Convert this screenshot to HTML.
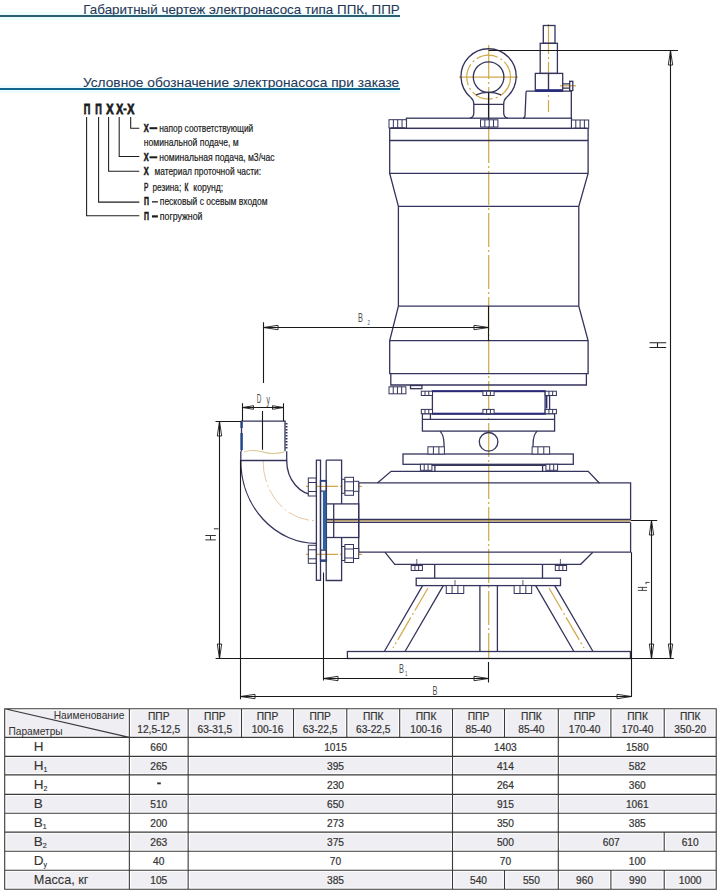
<!DOCTYPE html>
<html><head><meta charset="utf-8">
<style>
html,body{margin:0;padding:0;background:#fff;width:722px;height:896px;overflow:hidden}
svg{display:block}
text{font-family:"Liberation Sans",sans-serif}
</style></head><body>
<svg width="722" height="896" viewBox="0 0 722 896">
<rect x="0" y="12" width="400" height="8" fill="#ecfcff"/><text x="83.3" y="13.6" font-size="13.3" fill="#1f3858" stroke="#1f3858" stroke-width="0.08" textLength="316.5" lengthAdjust="spacingAndGlyphs">Габаритный чертеж электронасоса типа ППК, ППР</text><rect x="0" y="15" width="400" height="2" fill="#2a5f73"/><rect x="0" y="85" width="400" height="8" fill="#ecfcff"/><text x="82.9" y="86.8" font-size="13.5" fill="#1f3858" stroke="#1f3858" stroke-width="0.08" textLength="316.3" lengthAdjust="spacingAndGlyphs">Условное обозначение электронасоса при заказе</text><rect x="0" y="88" width="400" height="2" fill="#16658f"/><g fill="#1c1c1c"><text transform="translate(83.8 114.4) scale(0.609 1)" font-size="15" font-weight="bold" stroke="#1c1c1c" stroke-width="0.9">П</text><text transform="translate(95.3 114.4) scale(0.609 1)" font-size="15" font-weight="bold" stroke="#1c1c1c" stroke-width="0.9">П</text><text transform="translate(106.2 114.4) scale(0.730 1)" font-size="15" font-weight="bold" stroke="#1c1c1c" stroke-width="0.9">Х</text><text transform="translate(116.3 114.4) scale(0.690 1)" font-size="15" font-weight="bold" stroke="#1c1c1c" stroke-width="0.9">Х</text><rect x="123.4" y="108.3" width="3.2" height="2.2"/><text transform="translate(127.2 114.4) scale(0.710 1)" font-size="15" font-weight="bold" stroke="#1c1c1c" stroke-width="0.9">Х</text><path d="M86.6 117.1V215.7H139.3M98.6 117.1V202.1H139.3M108.6 117.1V171.2H139.3M119.2 117.1V156.5H139.3M130.7 117.1V128.2H139.3" stroke="#1c1c1c" stroke-width="1.05" fill="none"/><text transform="translate(143.7 131.6) scale(0.694 1)" font-size="10.8" font-weight="bold" stroke="#1c1c1c" stroke-width="0.6">Х</text><rect x="149.5" y="127.2" width="7.8" height="2"/><text x="159.2" y="131.6" font-size="10.6" textLength="94.1" lengthAdjust="spacingAndGlyphs" stroke="#1c1c1c" stroke-width="0.2">напор соответствующий</text><text x="143.7" y="146" font-size="10.6" textLength="95" lengthAdjust="spacingAndGlyphs" stroke="#1c1c1c" stroke-width="0.2">номинальной подаче, м</text><text transform="translate(143.7 160.7) scale(0.694 1)" font-size="10.8" font-weight="bold" stroke="#1c1c1c" stroke-width="0.6">Х</text><rect x="149.5" y="156.3" width="7.8" height="2"/><text x="159.2" y="160.7" font-size="10.6" textLength="115.4" lengthAdjust="spacingAndGlyphs" stroke="#1c1c1c" stroke-width="0.2">номинальная подача, м3/час</text><text transform="translate(143.7 174.8) scale(0.694 1)" font-size="10.8" font-weight="bold" stroke="#1c1c1c" stroke-width="0.6">Х</text><text x="154.4" y="174.8" font-size="10.6" textLength="106.6" lengthAdjust="spacingAndGlyphs" stroke="#1c1c1c" stroke-width="0.2">материал проточной части:</text><text transform="translate(144 190.5) scale(0.62 1)" font-size="10.6" stroke="#1c1c1c" stroke-width="0.5">Р</text><text x="152.5" y="190.5" font-size="10.6" textLength="28.7" lengthAdjust="spacingAndGlyphs" stroke="#1c1c1c" stroke-width="0.2">резина;</text><text transform="translate(184.6 190.5) scale(0.62 1)" font-size="10.6" stroke="#1c1c1c" stroke-width="0.5">К</text><text x="193.3" y="190.5" font-size="10.6" textLength="29.9" lengthAdjust="spacingAndGlyphs" stroke="#1c1c1c" stroke-width="0.2">корунд;</text><text transform="translate(143.9 205.4) scale(0.641 1)" font-size="10.8" font-weight="bold" stroke="#1c1c1c" stroke-width="0.6">П</text><rect x="152" y="201.2" width="5.9" height="1.3"/><text x="159.8" y="205.4" font-size="10.6" textLength="107.7" lengthAdjust="spacingAndGlyphs" stroke="#1c1c1c" stroke-width="0.2">песковый с осевым входом</text><text transform="translate(143.9 219.8) scale(0.641 1)" font-size="10.8" font-weight="bold" stroke="#1c1c1c" stroke-width="0.6">П</text><rect x="152" y="215.3" width="5.9" height="2.2"/><text x="159.8" y="219.8" font-size="10.6" textLength="42.7" lengthAdjust="spacingAndGlyphs" stroke="#1c1c1c" stroke-width="0.2">погружной</text></g>
<g id="drawing" fill="none" stroke-linejoin="miter">
<!-- orange centerlines -->
<g stroke="#d0a848" stroke-width="1.2">
<path d="M488.7 45V658" stroke-dasharray="34 3 2 3"/>
<path d="M548.5 24V112" stroke-dasharray="30 3 2 3"/>
<path d="M459 77.1H518"/>
<circle cx="488.6" cy="77.1" r="21.9" stroke-dasharray="22 3 2 3"/>
<path d="M263 460.5 A52 60 0 0 0 315.5 520.6" stroke-dasharray="22 3 2 3" stroke="#e6c8a4" stroke-width="1"/>
<path d="M326 520.8H630"/>
<path d="M306 486.3H338M340 486.3H362M306 554.4H338M340 554.4H362"/>
<path d="M244 452 Q253 449 263 452 T284 452" stroke="#d8c890"/>
<path d="M428 588L393 648" stroke-dasharray="26 3 2 3"/>
<path d="M549 588L584 648" stroke-dasharray="26 3 2 3"/>
<path d="M560 85.8H576"/>
</g>
<g stroke="#34345c" stroke-width="1.3">
<!-- eye bolt -->
<path d="M470.5 97.2 A27.6 27.6 0 1 1 506.7 97.2"/>
<path d="M470.5 97.2 Q473.8 100 473.8 104 V113 Q473.8 117 470 118.2"/>
<path d="M506.7 97.2 Q503.7 100 503.7 104 V113 Q503.7 117 507.6 118.2"/>
<circle cx="488.6" cy="77.1" r="15.3"/>
<path d="M476 94.8 Q488.6 90 501 94.8 M473.8 104.3H503.7"/>
<path d="M488.6 92.4V128.4" stroke="#1a1a3a"/>
<!-- cable gland -->
<rect x="543.3" y="25.5" width="11.7" height="17.8"/>
<rect x="540.2" y="43.3" width="17.2" height="30.1"/>
<rect x="535.3" y="73.4" width="27.4" height="17.8"/>
<path d="M548.5 73.4V91.2"/>
<path d="M562.7 83.8H569.7M562.7 88.1H569.7"/>
<rect x="569.7" y="81.3" width="3.1" height="9.3"/>
<path d="M526.1 91.2H571.3V118.2M526.1 91.2L525 116Q524.5 118 523 118.2"/>
<!-- top plate -->
<rect x="406.4" y="118.2" width="165.1" height="10.2"/>
<!-- body -->
<path d="M389.7 128.4H588.1V173.4L578.8 206.3V306.1L588.1 340.7V373.6H389.7V340.7L398.4 306.1V206.3L389.7 173.4Z"/>
<path d="M389.7 140.5H588.1M389.7 173.4H588.1M398.4 206.3H578.8M398.4 306.1H578.8M389.7 340.7H588.1"/>
<path d="M390.8 373.6V385H586.4V373.6"/>
<!-- flange area -->
<rect x="410.5" y="385.5" width="11.4" height="3.2"/>
<rect x="432.4" y="391.2" width="112.7" height="22.5"/>
<path d="M545.1 395.5H549.6V409.4"/>
<rect x="422.4" y="413.7" width="132.2" height="17.4"/>
<path d="M422.4 419.4H554.6M430.4 413.7V419.4"/>
<path d="M440 431.1 Q444.5 435.5 444 446.8M537.1 431.1 Q532.6 435.5 533.1 446.8"/>
<circle cx="488.6" cy="441.8" r="9.3"/>
<rect x="403" y="454" width="170.3" height="10.3"/>
<path d="M434.9 464.3V471.3M542.6 464.3V471.3M431.9 465.3H545.9"/>
<!-- volute -->
<path d="M358.7 482.9H630.6V519.8M358.7 482.9V552.2H630.6V522.6"/>
<path d="M377.4 482.9L391.1 471.3H588.2L599.5 483.2"/>
<path d="M384.9 552.2L394.8 564.3H580.7L592.8 552.2"/>
<path d="M326.2 519.5H630.6M326.2 522.3H630.6"/>
<!-- stand -->
<path d="M434.7 564.3V578.2M542.5 564.3V578.2"/>
<rect x="416.2" y="578.2" width="144.3" height="7.4"/>
<path d="M479.9 585.6V651.5M497.4 585.6V651.5"/>
<path d="M422.6 585.6L384.3 651.5M443.3 585.6L405 651.5M554.8 585.6L593 651.5M535.7 585.6L573.9 651.5"/>
<rect x="347.4" y="651.5" width="283" height="7"/>
<!-- pipe -->
<path d="M240.8 421.2H285.8M240.8 451.3V460.5H286.7V451.3M241.5 421.2V451.3M285 421.2V451.3"/>
<path d="M286.5 423V450" stroke-width="2" stroke-dasharray="1.5 1.5"/>
<path d="M240.8 460.5 A75.3 82.8 0 0 0 316.1 543.3"/>
<path d="M286.7 460.5 A29.4 34.7 0 0 0 316.1 495.2"/>
<!-- flange -->
<rect x="316.4" y="460.2" width="4.1" height="120.1"/>
<path d="M326.2 460.2H341.6V503.9M341.6 537.5V580.5H326.2V460.2"/>
<rect x="326.2" y="503.9" width="32.5" height="33.6"/>
<path d="M333.7 503.9V537.5"/>
<rect x="320.5" y="480.7" width="5.9" height="80.5"/><path d="M320.5 491.2H326.4M320.5 550.1H326.4"/>
</g>
<!-- blue fills -->
<g fill="#23458a" stroke="none">
<rect x="322.9" y="491.2" width="3.5" height="58.9" fill="#2d62a0"/><rect x="320.5" y="479.9" width="5.9" height="1.8"/><rect x="320.5" y="559.4" width="5.9" height="1.8"/>
<rect x="536" y="89.4" width="26" height="2.4"/>
<rect x="240.4" y="422" width="2.4" height="6"/><rect x="240.4" y="433" width="2.4" height="17"/>
<g fill="#2a2a7a"><rect x="431.8" y="390.2" width="113.8" height="2"/><rect x="431.8" y="412.7" width="113.8" height="2"/>
<rect x="545.8" y="396" width="1.6" height="12.5"/><rect x="536" y="89.4" width="26" height="2.4"/></g>
</g>
<!-- bolts -->
<g stroke="#34345c" stroke-width="1" fill="#fff"><rect x="389.0" y="119.7" width="17.40" height="8.20"/><path d="M393.35 119.7V127.9M397.70 119.7V127.9M402.05 119.7V127.9"/><rect x="480.5" y="119.8" width="17.40" height="7.20"/><path d="M484.85 119.8V127.0M489.20 119.8V127.0M493.55 119.8V127.0"/><rect x="571.5" y="120.0" width="17.20" height="8.20"/><path d="M575.80 120.0V128.2M580.10 120.0V128.2M584.40 120.0V128.2"/><rect x="389.0" y="386.8" width="16.90" height="7.00"/><path d="M393.23 386.8V393.8M397.45 386.8V393.8M401.67 386.8V393.8"/><rect x="421.29999999999995" y="391.2" width="11.20" height="4.30"/><path d="M425.03 391.2V395.5M428.77 391.2V395.5"/><rect x="421.29999999999995" y="409.4" width="11.20" height="4.30"/><path d="M425.03 409.4V413.7M428.77 409.4V413.7"/><rect x="482.9" y="391.2" width="11.20" height="4.30"/><path d="M486.63 391.2V395.5M490.37 391.2V395.5"/><rect x="482.9" y="409.4" width="11.20" height="4.30"/><path d="M486.63 409.4V413.7M490.37 409.4V413.7"/><rect x="545.1999999999999" y="391.2" width="11.20" height="4.30"/><path d="M548.93 391.2V395.5M552.67 391.2V395.5"/><rect x="545.1999999999999" y="409.4" width="11.20" height="4.30"/><path d="M548.93 409.4V413.7M552.67 409.4V413.7"/><rect x="427.9" y="446.8" width="16.50" height="7.20"/><path d="M433.40 446.8V454.0M438.90 446.8V454.0"/><rect x="532.1" y="446.8" width="17.50" height="7.20"/><path d="M537.93 446.8V454.0M543.77 446.8V454.0"/><rect x="420.4" y="464.3" width="11.50" height="6.00"/><path d="M424.23 464.3V470.3M428.07 464.3V470.3"/><rect x="545.9" y="464.3" width="11.70" height="6.00"/><path d="M549.80 464.3V470.3M553.70 464.3V470.3"/><rect x="411.2" y="565.5" width="11.20" height="5.00"/><path d="M414.93 565.5V570.5M418.67 565.5V570.5"/><rect x="555.3" y="565.5" width="11.30" height="5.00"/><path d="M559.07 565.5V570.5M562.83 565.5V570.5"/><rect x="446.25" y="585.6" width="17.50" height="7.90"/><path d="M452.08 585.6V593.5M457.92 585.6V593.5"/><rect x="514.15" y="585.6" width="17.50" height="7.90"/><path d="M519.98 585.6V593.5M525.82 585.6V593.5"/><rect x="308.3" y="478" width="7.80" height="18.00"/><path d="M308.3 482.50H316.1M308.3 491.50H316.1"/><rect x="308.3" y="545.3" width="7.80" height="18.00"/><path d="M308.3 549.80H316.1M308.3 558.80H316.1"/><rect x="341.9" y="479.3" width="3" height="14.0"/><rect x="344.9" y="477.3" width="8.60" height="18.00"/><path d="M344.9 481.80H353.5M344.9 490.80H353.5"/><rect x="353.5" y="481.3" width="5.2" height="10.0"/><rect x="341.9" y="546.5" width="3" height="14.0"/><rect x="344.9" y="544.5" width="8.60" height="18.00"/><path d="M344.9 549.00H353.5M344.9 558.00H353.5"/><rect x="353.5" y="548.5" width="5.2" height="10.0"/><path d="M416.8 559V565.5M560.4 559V565.5M455 580V585.6M522.9 580V585.6" fill="none" stroke-width="0.8"/><path d="M391 127.9H405M573 128.2H587" fill="none" stroke-width="1"/></g><path d="M670.5 50.5L668.3 65.0L672.7 65.0ZM670.5 658.5L668.3 644.0L672.7 644.0ZM651.5 520.5L649.3 535.0L653.7 535.0ZM651.5 658.5L649.3 644.0L653.7 644.0ZM219.5 421.5L217.3 436.0L221.7 436.0ZM219.5 658.5L217.3 644.0L221.7 644.0ZM240.5 696.5L255.0 694.3L255.0 698.7ZM631.5 696.5L617.0 694.3L617.0 698.7ZM323.5 678.5L338.0 676.3L338.0 680.7ZM488.5 678.5L474.0 676.3L474.0 680.7ZM263.5 327.5L278.0 325.3L278.0 329.7ZM488.5 327.5L474.0 325.3L474.0 329.7ZM242.5 407.5L253.5 405.7L253.5 409.3ZM283.5 407.5L272.5 405.7L272.5 409.3Z" stroke="#1a1a1a" stroke-width="0.9" fill="none"/><text transform="translate(399.1 673.3) scale(0.55 1)" font-size="13.5" fill="#505050">B</text><text transform="translate(404.9 676) scale(0.55 1)" font-size="8" fill="#505050">1</text><text transform="translate(432.6 695.4) scale(0.55 1)" font-size="13.5" fill="#505050">B</text><text transform="translate(357.9 322.2) scale(0.55 1)" font-size="13.5" fill="#505050">B</text><text transform="translate(367.5 325) scale(0.55 1)" font-size="8" fill="#505050">2</text><text transform="translate(256.8 403.3) scale(0.5 1)" font-size="12.8" fill="#505050">D</text><text transform="translate(266.6 404) scale(0.55 1)" font-size="12.5" fill="#505050">y</text><path d="M649.5 342.7H666.2M649.5 347.5H666.2M657.5 342.7V347.5" stroke="#222" stroke-width="1.1" fill="none"/><path d="M637.8 587.4H647M637.8 590.4H647M642.4 587.4V590.4M645.6 582.4H649.6M646 582.4V584.2" stroke="#333" stroke-width="0.9" fill="none"/><path d="M205.3 535.5H215.8M205.3 539.9H215.8M210.5 535.5V539.9M213.9 528.8H218.6" stroke="#333" stroke-width="1" fill="none"/>
<!-- dimension lines -->
<g stroke="#1a1a1a" stroke-width="1.1">
<path d="M488.6 50.5H678M670.5 50.5V658.5"/>
<path d="M630.6 520.5H657.2M651.5 520.5V658.5"/>
<path d="M215.6 658.5H673.8"/>
<path d="M215.5 421.5H241M219.5 421.5V658.5"/>
<path d="M240.5 460V699.2M631.5 552.2V697M240.5 696.5H631.5"/>
<path d="M323.5 572.6V680.5M488.5 662V682.4M323.5 678.5H488.5"/>
<path d="M263.5 322.2V383.1M262.5 411V449.8M263.5 327.5H488.5M488.5 306.1V340.7"/>
<path d="M242.5 403.2V421M283.5 403.2V421M242.5 407.5H283.5"/>
</g>
</g>

<g id="table"><rect x="6.50" y="710.30" width="121.05" height="25.50" fill="#efeef2"/><rect x="131.15" y="710.30" width="55.20" height="25.50" fill="#efeef2"/><rect x="189.95" y="710.30" width="49.75" height="25.50" fill="#efeef2"/><rect x="243.30" y="710.30" width="48.40" height="25.50" fill="#efeef2"/><rect x="295.30" y="710.30" width="49.70" height="25.50" fill="#efeef2"/><rect x="348.60" y="710.30" width="49.30" height="25.50" fill="#efeef2"/><rect x="401.50" y="710.30" width="49.20" height="25.50" fill="#efeef2"/><rect x="454.30" y="710.30" width="48.40" height="25.50" fill="#efeef2"/><rect x="506.30" y="710.30" width="50.20" height="25.50" fill="#efeef2"/><rect x="560.10" y="710.30" width="49.00" height="25.50" fill="#efeef2"/><rect x="612.70" y="710.30" width="49.70" height="25.50" fill="#efeef2"/><rect x="666.00" y="710.30" width="48.40" height="25.50" fill="#efeef2"/><rect x="6.50" y="758.00" width="121.05" height="15.30" fill="#efeef2"/><rect x="131.15" y="758.00" width="55.20" height="15.30" fill="#efeef2"/><rect x="189.95" y="758.00" width="260.75" height="15.30" fill="#efeef2"/><rect x="454.30" y="758.00" width="102.20" height="15.30" fill="#efeef2"/><rect x="560.10" y="758.00" width="154.30" height="15.30" fill="#efeef2"/><rect x="6.50" y="796.00" width="121.05" height="15.70" fill="#efeef2"/><rect x="131.15" y="796.00" width="55.20" height="15.70" fill="#efeef2"/><rect x="189.95" y="796.00" width="260.75" height="15.70" fill="#efeef2"/><rect x="454.30" y="796.00" width="102.20" height="15.70" fill="#efeef2"/><rect x="560.10" y="796.00" width="154.30" height="15.70" fill="#efeef2"/><rect x="6.50" y="833.70" width="121.05" height="16.00" fill="#efeef2"/><rect x="131.15" y="833.70" width="55.20" height="16.00" fill="#efeef2"/><rect x="189.95" y="833.70" width="260.75" height="16.00" fill="#efeef2"/><rect x="454.30" y="833.70" width="102.20" height="16.00" fill="#efeef2"/><rect x="560.10" y="833.70" width="102.30" height="16.00" fill="#efeef2"/><rect x="666.00" y="833.70" width="48.40" height="16.00" fill="#efeef2"/><rect x="6.50" y="871.80" width="121.05" height="15.90" fill="#efeef2"/><rect x="131.15" y="871.80" width="55.20" height="15.90" fill="#efeef2"/><rect x="189.95" y="871.80" width="260.75" height="15.90" fill="#efeef2"/><rect x="454.30" y="871.80" width="48.40" height="15.90" fill="#efeef2"/><rect x="506.30" y="871.80" width="50.20" height="15.90" fill="#efeef2"/><rect x="560.10" y="871.80" width="49.00" height="15.90" fill="#efeef2"/><rect x="612.70" y="871.80" width="49.70" height="15.90" fill="#efeef2"/><rect x="666.00" y="871.80" width="48.40" height="15.90" fill="#efeef2"/><path d="M4.7 708.7H716.2V889.3H4.7ZM4.7 737.4H716.2M4.7 756.4H716.2M4.7 774.9H716.2M4.7 794.4H716.2M4.7 813.3H716.2M4.7 832.1H716.2M4.7 851.3H716.2M4.7 870.2H716.2M129.35 708.7V889.3M188.15 708.7V737.4M241.5 708.7V737.4M293.5 708.7V737.4M346.8 708.7V737.4M399.7 708.7V737.4M452.5 708.7V737.4M504.5 708.7V737.4M558.3 708.7V737.4M610.9 708.7V737.4M664.2 708.7V737.4M188.15 737.4V756.4M452.5 737.4V756.4M558.3 737.4V756.4M188.15 756.4V774.9M452.5 756.4V774.9M558.3 756.4V774.9M188.15 774.9V794.4M452.5 774.9V794.4M558.3 774.9V794.4M188.15 794.4V813.3M452.5 794.4V813.3M558.3 794.4V813.3M188.15 813.3V832.1M452.5 813.3V832.1M558.3 813.3V832.1M188.15 832.1V851.3M452.5 832.1V851.3M558.3 832.1V851.3M664.2 832.1V851.3M188.15 851.3V870.2M452.5 851.3V870.2M558.3 851.3V870.2M188.15 870.2V889.3M452.5 870.2V889.3M504.5 870.2V889.3M558.3 870.2V889.3M610.9 870.2V889.3M664.2 870.2V889.3M4.7 708.7L129.35 737.4" stroke="#3a3a3a" stroke-width="1.1" fill="none"/><text x="158.75" y="720" font-size="10.2" text-anchor="middle" fill="#333333" stroke="#333333" stroke-width="0.2">ППР</text><text x="158.75" y="732.9" font-size="10.2" text-anchor="middle" fill="#333333" stroke="#333333" stroke-width="0.2">12,5-12,5</text><text x="214.82" y="720" font-size="10.2" text-anchor="middle" fill="#333333" stroke="#333333" stroke-width="0.2">ППР</text><text x="214.82" y="732.9" font-size="10.2" text-anchor="middle" fill="#333333" stroke="#333333" stroke-width="0.2">63-31,5</text><text x="267.50" y="720" font-size="10.2" text-anchor="middle" fill="#333333" stroke="#333333" stroke-width="0.2">ППР</text><text x="267.50" y="732.9" font-size="10.2" text-anchor="middle" fill="#333333" stroke="#333333" stroke-width="0.2">100-16</text><text x="320.15" y="720" font-size="10.2" text-anchor="middle" fill="#333333" stroke="#333333" stroke-width="0.2">ППР</text><text x="320.15" y="732.9" font-size="10.2" text-anchor="middle" fill="#333333" stroke="#333333" stroke-width="0.2">63-22,5</text><text x="373.25" y="720" font-size="10.2" text-anchor="middle" fill="#333333" stroke="#333333" stroke-width="0.2">ППК</text><text x="373.25" y="732.9" font-size="10.2" text-anchor="middle" fill="#333333" stroke="#333333" stroke-width="0.2">63-22,5</text><text x="426.10" y="720" font-size="10.2" text-anchor="middle" fill="#333333" stroke="#333333" stroke-width="0.2">ППК</text><text x="426.10" y="732.9" font-size="10.2" text-anchor="middle" fill="#333333" stroke="#333333" stroke-width="0.2">100-16</text><text x="478.50" y="720" font-size="10.2" text-anchor="middle" fill="#333333" stroke="#333333" stroke-width="0.2">ППР</text><text x="478.50" y="732.9" font-size="10.2" text-anchor="middle" fill="#333333" stroke="#333333" stroke-width="0.2">85-40</text><text x="531.40" y="720" font-size="10.2" text-anchor="middle" fill="#333333" stroke="#333333" stroke-width="0.2">ППК</text><text x="531.40" y="732.9" font-size="10.2" text-anchor="middle" fill="#333333" stroke="#333333" stroke-width="0.2">85-40</text><text x="584.60" y="720" font-size="10.2" text-anchor="middle" fill="#333333" stroke="#333333" stroke-width="0.2">ППР</text><text x="584.60" y="732.9" font-size="10.2" text-anchor="middle" fill="#333333" stroke="#333333" stroke-width="0.2">170-40</text><text x="637.55" y="720" font-size="10.2" text-anchor="middle" fill="#333333" stroke="#333333" stroke-width="0.2">ППК</text><text x="637.55" y="732.9" font-size="10.2" text-anchor="middle" fill="#333333" stroke="#333333" stroke-width="0.2">170-40</text><text x="690.20" y="720" font-size="10.2" text-anchor="middle" fill="#333333" stroke="#333333" stroke-width="0.2">ППК</text><text x="690.20" y="732.9" font-size="10.2" text-anchor="middle" fill="#333333" stroke="#333333" stroke-width="0.2">350-20</text><text x="124.3" y="719" font-size="10.2" text-anchor="end" fill="#333333">Наименование</text><text x="8.4" y="734.6" font-size="10.2" fill="#333333">Параметры</text><text x="33.7" y="750.80" font-size="13.5" fill="#333333" stroke="#333333" stroke-width="0.12">H<tspan font-size="7" dy="2.2" stroke-width="0.15"></tspan></text><text x="158.75" y="750.80" font-size="10.2" text-anchor="middle" fill="#333333" stroke="#333333" stroke-width="0.2">660</text><text x="335.50" y="750.80" font-size="10.2" text-anchor="middle" fill="#333333" stroke="#333333" stroke-width="0.2">1015</text><text x="505.40" y="750.80" font-size="10.2" text-anchor="middle" fill="#333333" stroke="#333333" stroke-width="0.2">1403</text><text x="637.25" y="750.80" font-size="10.2" text-anchor="middle" fill="#333333" stroke="#333333" stroke-width="0.2">1580</text><text x="33.7" y="769.55" font-size="13.5" fill="#333333" stroke="#333333" stroke-width="0.12">H<tspan font-size="7" dy="2.2" stroke-width="0.15">1</tspan></text><text x="158.75" y="769.55" font-size="10.2" text-anchor="middle" fill="#333333" stroke="#333333" stroke-width="0.2">265</text><text x="335.50" y="769.55" font-size="10.2" text-anchor="middle" fill="#333333" stroke="#333333" stroke-width="0.2">395</text><text x="505.40" y="769.55" font-size="10.2" text-anchor="middle" fill="#333333" stroke="#333333" stroke-width="0.2">414</text><text x="637.25" y="769.55" font-size="10.2" text-anchor="middle" fill="#333333" stroke="#333333" stroke-width="0.2">582</text><text x="33.7" y="788.55" font-size="13.5" fill="#333333" stroke="#333333" stroke-width="0.12">H<tspan font-size="7" dy="2.2" stroke-width="0.15">2</tspan></text><text x="158.75" y="788.55" font-size="10.2" text-anchor="middle" fill="#333333" stroke="#333333" stroke-width="0.2"></text><text x="335.50" y="788.55" font-size="10.2" text-anchor="middle" fill="#333333" stroke="#333333" stroke-width="0.2">230</text><text x="505.40" y="788.55" font-size="10.2" text-anchor="middle" fill="#333333" stroke="#333333" stroke-width="0.2">264</text><text x="637.25" y="788.55" font-size="10.2" text-anchor="middle" fill="#333333" stroke="#333333" stroke-width="0.2">360</text><text x="33.7" y="807.75" font-size="13.5" fill="#333333" stroke="#333333" stroke-width="0.12">B<tspan font-size="7" dy="2.2" stroke-width="0.15"></tspan></text><text x="158.75" y="807.75" font-size="10.2" text-anchor="middle" fill="#333333" stroke="#333333" stroke-width="0.2">510</text><text x="335.50" y="807.75" font-size="10.2" text-anchor="middle" fill="#333333" stroke="#333333" stroke-width="0.2">650</text><text x="505.40" y="807.75" font-size="10.2" text-anchor="middle" fill="#333333" stroke="#333333" stroke-width="0.2">915</text><text x="637.25" y="807.75" font-size="10.2" text-anchor="middle" fill="#333333" stroke="#333333" stroke-width="0.2">1061</text><text x="33.7" y="826.60" font-size="13.5" fill="#333333" stroke="#333333" stroke-width="0.12">B<tspan font-size="7" dy="2.2" stroke-width="0.15">1</tspan></text><text x="158.75" y="826.60" font-size="10.2" text-anchor="middle" fill="#333333" stroke="#333333" stroke-width="0.2">200</text><text x="335.50" y="826.60" font-size="10.2" text-anchor="middle" fill="#333333" stroke="#333333" stroke-width="0.2">273</text><text x="505.40" y="826.60" font-size="10.2" text-anchor="middle" fill="#333333" stroke="#333333" stroke-width="0.2">350</text><text x="637.25" y="826.60" font-size="10.2" text-anchor="middle" fill="#333333" stroke="#333333" stroke-width="0.2">385</text><text x="33.7" y="845.60" font-size="13.5" fill="#333333" stroke="#333333" stroke-width="0.12">B<tspan font-size="7" dy="2.2" stroke-width="0.15">2</tspan></text><text x="158.75" y="845.60" font-size="10.2" text-anchor="middle" fill="#333333" stroke="#333333" stroke-width="0.2">263</text><text x="335.50" y="845.60" font-size="10.2" text-anchor="middle" fill="#333333" stroke="#333333" stroke-width="0.2">375</text><text x="505.40" y="845.60" font-size="10.2" text-anchor="middle" fill="#333333" stroke="#333333" stroke-width="0.2">500</text><text x="611.25" y="845.60" font-size="10.2" text-anchor="middle" fill="#333333" stroke="#333333" stroke-width="0.2">607</text><text x="690.20" y="845.60" font-size="10.2" text-anchor="middle" fill="#333333" stroke="#333333" stroke-width="0.2">610</text><text x="33.7" y="864.65" font-size="13.5" fill="#333333" stroke="#333333" stroke-width="0.12">D<tspan font-size="7" dy="2.2" stroke-width="0.15">y</tspan></text><text x="158.75" y="864.65" font-size="10.2" text-anchor="middle" fill="#333333" stroke="#333333" stroke-width="0.2">40</text><text x="335.50" y="864.65" font-size="10.2" text-anchor="middle" fill="#333333" stroke="#333333" stroke-width="0.2">70</text><text x="505.40" y="864.65" font-size="10.2" text-anchor="middle" fill="#333333" stroke="#333333" stroke-width="0.2">70</text><text x="637.25" y="864.65" font-size="10.2" text-anchor="middle" fill="#333333" stroke="#333333" stroke-width="0.2">100</text><text x="33.7" y="884.15" font-size="13.5" fill="#333333" stroke="#333333" stroke-width="0.1" textLength="54.8" lengthAdjust="spacingAndGlyphs">Масса, кг</text><text x="158.75" y="883.65" font-size="10.2" text-anchor="middle" fill="#333333" stroke="#333333" stroke-width="0.2">105</text><text x="335.50" y="883.65" font-size="10.2" text-anchor="middle" fill="#333333" stroke="#333333" stroke-width="0.2">385</text><text x="478.50" y="883.65" font-size="10.2" text-anchor="middle" fill="#333333" stroke="#333333" stroke-width="0.2">540</text><text x="531.40" y="883.65" font-size="10.2" text-anchor="middle" fill="#333333" stroke="#333333" stroke-width="0.2">550</text><text x="584.60" y="883.65" font-size="10.2" text-anchor="middle" fill="#333333" stroke="#333333" stroke-width="0.2">960</text><text x="637.55" y="883.65" font-size="10.2" text-anchor="middle" fill="#333333" stroke="#333333" stroke-width="0.2">990</text><text x="690.20" y="883.65" font-size="10.2" text-anchor="middle" fill="#333333" stroke="#333333" stroke-width="0.2">1000</text><rect x="157.2" y="782.4" width="3.6" height="1.9" fill="#333"/></g>
</svg>
</body></html>
